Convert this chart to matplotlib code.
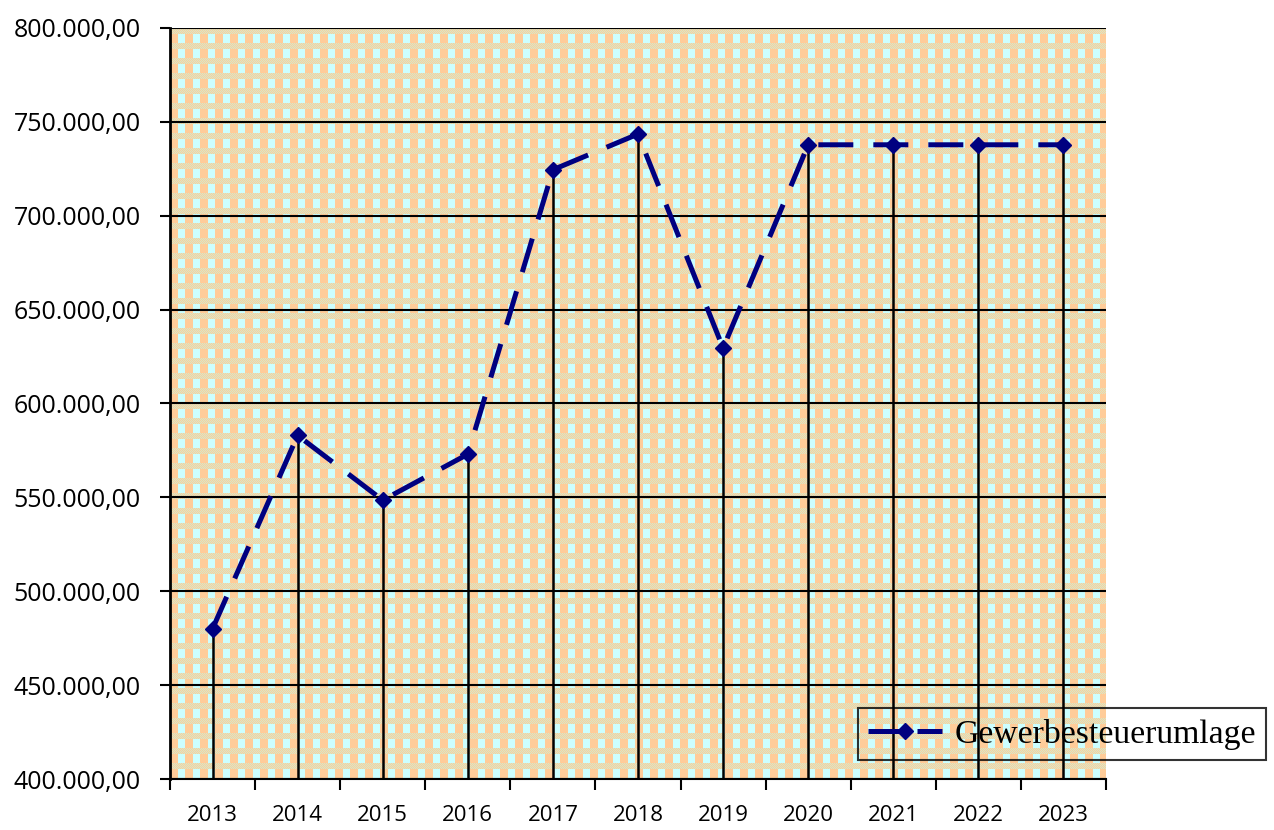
import numpy as np
import matplotlib
matplotlib.use('Agg')
import matplotlib.pyplot as plt
from matplotlib.lines import Line2D

# data
years = ['2013', '2014', '2015', '2016', '2017', '2018', '2019', '2020', '2021', '2022', '2023']
umlage = [480000, 583000, 548500, 573000, 724500, 743500, 629500, 737800, 737800, 737800, 737800]
y_ticks = [400000, 450000, 500000, 550000, 600000, 650000, 700000, 750000, 800000]

W, H = 1274, 830
fig = plt.figure(figsize=(W / 100, H / 100), dpi=100)
ax_l, ax_r, ax_t, ax_b = 170, 1106, 28, 779
ax = fig.add_axes([ax_l / W, (H - ax_b) / H, (ax_r - ax_l) / W, (ax_b - ax_t) / H])

# plaid background like the original office chart
pw, ph = ax_r - ax_l, ax_b - ax_t
orange = np.array([1.0, 0.8, 0.6])
cyan = np.array([0.8, 1.0, 1.0])
mix = np.array([0.82, 0.92, 0.8])
cols = np.arange(pw)
img = np.zeros((ph, pw, 3))
col_is_orange = ((cols // 7.5).astype(int) % 2 == 0)
for r in range(ph):
    if r % 15 < 6:
        checker = ((cols + r) % 2 == 0)
        img[r] = np.where(checker[:, None], orange, mix)
    else:
        img[r] = np.where(col_is_orange[:, None], orange, cyan)
x = np.arange(len(years))
ax.imshow(img, extent=(-0.5, len(years) - 0.5, 400000, 800000), aspect='auto',
          interpolation='nearest', zorder=0)

ax.set_xlim(-0.5, len(years) - 0.5)
ax.set_ylim(400000, 800000)

for yv in y_ticks:
    ax.axhline(yv, color='black', lw=1.5, zorder=1)
ax.vlines(x, 400000, umlage, color='black', lw=1.8, zorder=2)

ax.plot(x, umlage, color='#000080', lw=3.6, dashes=(7, 4), marker='D', markersize=8,
        zorder=3, clip_on=False)

ax.set_yticks(y_ticks)
ax.set_yticklabels([f'{v:,.2f}'.replace(',', 'X').replace('.', ',').replace('X', '.') for v in y_ticks],
                   fontsize=18, family='Open Sans')
ax.tick_params(axis='y', length=7, width=1.5, pad=14)

ax.set_xticks(x)
ax.set_xticklabels(years, fontsize=16, family='Open Sans')
ax.set_xticks(np.arange(-0.5, len(years)), minor=True)
ax.tick_params(axis='x', which='major', length=0, pad=19)
ax.tick_params(axis='x', which='minor', length=8, width=1.5)

for s in ['top', 'right']:
    ax.spines[s].set_visible(False)
ax.spines['left'].set_linewidth(2)
ax.spines['bottom'].set_linewidth(1.5)

handle = Line2D([], [], color='#000080', lw=3.6, dashes=(7, 2.8), marker='D', markersize=8)
leg = fig.legend([handle], ['Gewerbesteuerumlage'], loc='center left',
                 bbox_to_anchor=(858 / W, (H - 734) / H), frameon=True, fancybox=False,
                 prop={'family': 'Liberation Serif', 'size': 24.3}, handlelength=2.2,
                 handletextpad=0.35, borderpad=0.3, borderaxespad=0)
leg.get_frame().set_edgecolor('black')
leg.get_frame().set_linewidth(1.5)
leg.get_frame().set_facecolor('none')

fig.savefig('out.png', dpi=100)
